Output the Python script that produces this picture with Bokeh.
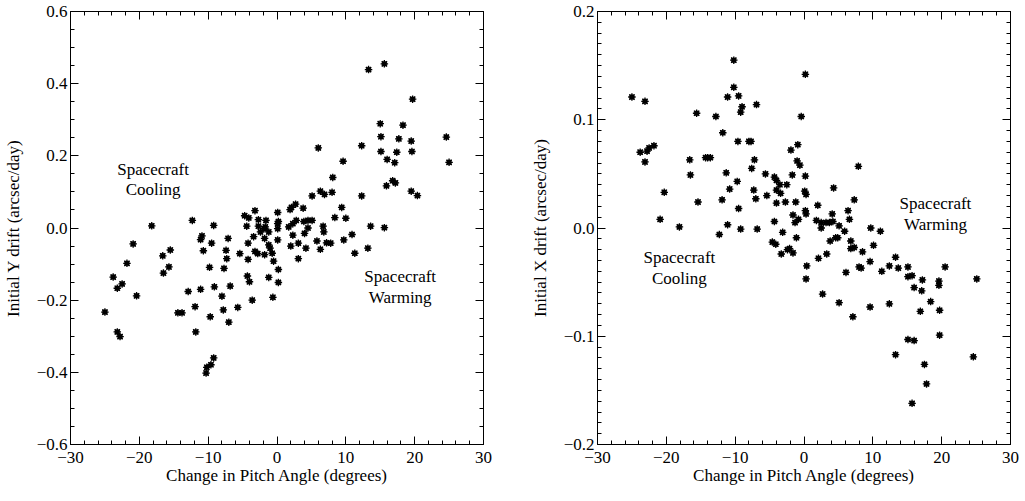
from bokeh.plotting import figure
from bokeh.layouts import row
from bokeh.models import Range1d, LinearAxis, FixedTicker, CustomJSTickFormatter
from bokeh.core.properties import value
from bokeh.embed import file_html
from bokeh.resources import INLINE

# ---------------- data ----------------
x_ticks = [-30, -20, -10, 0, 10, 20, 30]
y_ticks_left = [-0.6, -0.4, -0.2, 0.0, 0.2, 0.4, 0.6]
y_ticks_right = [-0.2, -0.1, 0.0, 0.1, 0.2]

pitch_y = [-25.0, -23.8, -23.2, -22.5, -23.2, -22.8, -21.8, -20.9, -20.4, -18.2,
           -16.6, -15.5, -16.5, -15.7, -12.9, -14.4, -13.8, -11.9, -11.8, -11.1,
           -12.3, -11.1, -10.9, -10.7, -9.8, -9.7, -9.1, -10.3, -10.2, -9.6,
           -9.2, -9.5, -9.2, -7.4, -7.3, -7.7, -8.0, -7.8, -6.8, -7.0,
           -7.1, -5.4, -4.2, -4.3, -4.0, -5.7, -3.6, -4.2, -3.4, -3.2,
           -4.7, -4.1, -4.4, -2.7, -2.7, -1.6, -1.7, -1.9, -1.2, -2.4,
           -1.8, -1.2, -1.0, -3.2, -2.8, -1.8, -0.7, -0.5, 0.2, -1.2,
           0.2, -0.6, 0.1, 0.2, 0.1, 0.1, 0.1, 1.9, 2.1, 2.7,
           3.8, 5.1, 6.3, 6.9, 8.0, 1.7, 2.3, 2.8, 3.9, 4.5,
           5.1, 4.5, 6.7, 6.8, 2.3, 4.0, 2.0, 3.1, 4.2, 5.8,
           6.3, 3.1, 7.2, 7.8, 9.7, 11.3, 13.2, 10.9, 13.6, 15.6,
           8.4, 10.0, 9.4, 12.3, 8.1, 9.6, 15.9, 16.8, 17.2, 19.5,
           20.4, 16.0, 17.1, 25.0, 6.0, 12.3, 15.1, 17.4, 19.6, 15.1,
           17.7, 19.5, 24.6, 15.0, 18.3, 19.7, 13.3, 15.6]
drift_y = [-0.233, -0.136, -0.167, -0.155, -0.288, -0.301, -0.098, -0.044, -0.188, 0.006,
           -0.077, -0.061, -0.125, -0.108, -0.176, -0.235, -0.235, -0.218, -0.288, -0.170,
           0.021, -0.032, -0.022, -0.063, -0.109, -0.246, -0.163, -0.402, -0.386, -0.379,
           -0.360, -0.042, 0.007, -0.062, -0.085, -0.112, -0.189, -0.227, -0.161, -0.261,
           -0.029, -0.071, -0.087, -0.133, -0.149, -0.220, -0.200, -0.042, -0.024, 0.048,
           0.034, 0.028, 0.005, 0.023, 0.005, 0.021, 0.003, -0.002, -0.011, -0.011,
           -0.029, -0.047, -0.056, -0.065, -0.071, -0.074, -0.070, -0.092, -0.115, -0.137,
           -0.151, -0.192, 0.012, 0.018, -0.002, 0.043, -0.033, 0.051, 0.057, 0.066,
           0.055, 0.089, 0.102, 0.093, 0.099, 0.003, 0.012, 0.021, 0.018, 0.021,
           0.021, 0.000, 0.005, -0.011, -0.020, -0.015, -0.050, -0.042, -0.056, -0.036,
           -0.059, -0.085, -0.041, -0.042, -0.033, -0.070, -0.056, -0.018, 0.005, 0.001,
           0.029, 0.027, 0.057, 0.089, 0.140, 0.185, 0.117, 0.131, 0.125, 0.102,
           0.090, 0.190, 0.181, 0.182, 0.222, 0.228, 0.212, 0.210, 0.212, 0.253,
           0.247, 0.241, 0.252, 0.289, 0.285, 0.357, 0.439, 0.455]

pitch_x = [-25.0, -23.1, -23.8, -22.8, -22.5, -21.8, -23.1, -20.3, -20.9, -18.1,
           -16.6, -16.5, -15.4, -15.6, -14.3, -14.0, -13.6, -12.8, -11.8, -12.3,
           -11.9, -11.1, -11.3, -10.8, -9.7, -9.5, -9.2, -10.2, -10.2, -11.1,
           -9.5, -9.0, -9.2, -6.9, -9.6, -8.0, -7.7, -7.2, -7.6, -7.3,
           -7.0, -6.8, -5.6, -5.4, -4.3, -4.0, -3.5, -4.0, -3.4, -2.5,
           -1.7, -1.9, -1.0, -0.6, -0.9, -0.4, 0.2, 0.2, 0.1, 0.3,
           4.3, 7.9, -4.3, -3.1, -1.6, -1.3, -4.0, -2.7, -1.2, -4.6,
           -4.1, -2.4, -2.1, -3.3, -1.6, -1.1, 2.0, 7.3, -0.8, 0.3,
           0.2, 1.8, 2.5, 3.2, 3.7, 2.5, 4.1, 4.2, 5.1, 6.4,
           6.6, 5.9, 3.8, 4.6, 4.9, 6.8, 9.7, 11.1, 10.1, 6.8,
           7.3, 8.5, 0.4, 0.3, 2.1, 3.3, 6.1, 8.0, 8.3, 9.6,
           11.3, 12.4, 13.3, 13.7, 15.1, 15.1, 15.7, 17.2, 16.0, 17.1,
           19.6, 19.6, 20.5, 2.7, 5.1, 7.1, 9.6, 12.4, 18.4, 16.9,
           19.7, 15.1, 16.0, 19.7, 13.3, 17.5, 17.8, 15.7, 25.1, 24.6]
drift_x = [0.121, 0.117, 0.070, 0.071, 0.074, 0.076, 0.061, 0.033, 0.008, 0.001,
           0.063, 0.049, 0.024, 0.106, 0.065, 0.065, 0.065, 0.103, 0.088, -0.006,
           0.026, 0.003, 0.051, 0.036, 0.043, 0.018, -0.001, 0.155, 0.130, 0.121,
           0.122, 0.112, 0.107, 0.114, 0.080, 0.080, 0.080, 0.063, 0.055, 0.035,
           0.027, -0.001, 0.050, 0.030, 0.047, 0.044, 0.040, 0.035, 0.032, 0.040,
           0.049, 0.072, 0.062, 0.058, 0.077, 0.103, 0.142, 0.048, 0.034, 0.031,
           0.037, 0.057, 0.006, -0.004, 0.012, 0.005, 0.023, 0.024, 0.024, -0.013,
           -0.015, -0.020, -0.019, -0.024, -0.023, -0.009, 0.021, 0.026, 0.008, 0.013,
           0.016, 0.007, 0.005, 0.005, 0.005, 0.000, 0.013, 0.006, 0.002, 0.016,
           0.008, -0.003, -0.012, -0.009, -0.009, -0.012, 0.000, -0.003, -0.016, -0.019,
           -0.018, -0.022, -0.035, -0.047, -0.028, -0.024, -0.041, -0.036, -0.037, -0.031,
           -0.040, -0.035, -0.027, -0.037, -0.036, -0.045, -0.044, -0.048, -0.055, -0.058,
           -0.049, -0.053, -0.036, -0.061, -0.069, -0.082, -0.073, -0.070, -0.068, -0.077,
           -0.076, -0.103, -0.104, -0.099, -0.117, -0.126, -0.144, -0.162, -0.047, -0.119]

FONT = "Liberation Serif"
FS = "17px"
MINUS = "\u2212"

x_fmt = CustomJSTickFormatter(code="""
var v = Math.round(tick);
if (v === 0) return '0';
return (v < 0 ? '%s' : '') + Math.abs(v);
""" % MINUS)
y_fmt = CustomJSTickFormatter(code="""
if (Math.abs(tick) < 1e-9) return '0.0';
return (tick < 0 ? '%s' : '') + Math.abs(tick).toFixed(1);
""" % MINUS)
blank_fmt = CustomJSTickFormatter(code="return '';")


def make_ticker(major, n_minor):
    step = major[1] - major[0]
    minor = []
    for a in major[:-1]:
        for k in range(1, n_minor):
            minor.append(round(a + step * k / n_minor, 6))
    return FixedTicker(ticks=major, minor_ticks=minor)


def style_axis(ax, labels):
    ax.axis_line_color = "black"
    ax.axis_line_width = 1
    ax.major_tick_line_color = "black"
    ax.minor_tick_line_color = "black"
    ax.major_tick_in = 8
    ax.major_tick_out = 0
    ax.minor_tick_in = 4
    ax.minor_tick_out = 0
    ax.major_label_text_font = FONT
    ax.major_label_text_font_size = FS
    ax.major_label_text_color = "black"
    ax.axis_label_text_font = FONT
    ax.axis_label_text_font_size = FS
    ax.axis_label_text_font_style = "normal"
    ax.axis_label_text_color = "black"
    if not labels:
        ax.major_label_text_font_size = "0px"
        ax.major_label_standoff = 0


def make_panel(xs, ys, y_major, y_minor, ylabel, left_border, right_border, notes):
    p = figure(output_backend="svg", toolbar_location=None,
               x_range=Range1d(x_ticks[0], x_ticks[-1]),
               y_range=Range1d(y_major[0], y_major[-1]),
               x_axis_type=None, y_axis_type=None,
               frame_width=413, frame_height=433,
               min_border_left=left_border, min_border_right=right_border,
               min_border_top=11, min_border_bottom=46,
               background_fill_color="white", border_fill_color="white")
    p.outline_line_color = "black"
    p.outline_line_width = 1

    bottom = LinearAxis(ticker=make_ticker(x_ticks, 5), formatter=x_fmt,
                        axis_label="Change in Pitch Angle (degrees)")
    style_axis(bottom, True)
    bottom.major_label_standoff = 7
    bottom.axis_label_standoff = 0
    p.add_layout(bottom, "below")

    left = LinearAxis(ticker=make_ticker(y_major, y_minor), formatter=y_fmt, axis_label=ylabel)
    style_axis(left, True)
    left.major_label_standoff = 3
    left.axis_label_standoff = 11
    p.add_layout(left, "left")

    top = LinearAxis(ticker=make_ticker(x_ticks, 5), formatter=blank_fmt)
    style_axis(top, False)
    p.add_layout(top, "above")

    right = LinearAxis(ticker=make_ticker(y_major, y_minor), formatter=blank_fmt)
    style_axis(right, False)
    p.add_layout(right, "right")

    p.scatter(xs, ys, marker="square", size=4.5, fill_color="black", line_color="black",
              line_width=0.5)
    p.scatter(xs, ys, marker="asterisk", size=7.5, line_color="black", line_width=1.3)

    for (tx, ty, txt) in notes:
        p.text(x=[tx], y=[ty], text=[txt], text_font=value(FONT),
               text_font_size=FS, text_align="center", text_baseline="middle",
               text_line_height=1.08, text_color="black")
    return p


p1 = make_panel(pitch_y, drift_y, y_ticks_left, 4, "Initial Y drift (arcsec/day)", 64, 10,
                [(-18.0, 0.134, "Spacecraft\nCooling"), (17.9, -0.164, "Spacecraft\nWarming")])
p2 = make_panel(pitch_x, drift_x, y_ticks_right, 10, "Initial X drift (arcsec/day)", 104, 10,
                [(-18.1, -0.037, "Spacecraft\nCooling"), (19.1, 0.013, "Spacecraft\nWarming")])

layout = row(p1, p2)
open("out.html", "w").write(file_html(layout, INLINE))
